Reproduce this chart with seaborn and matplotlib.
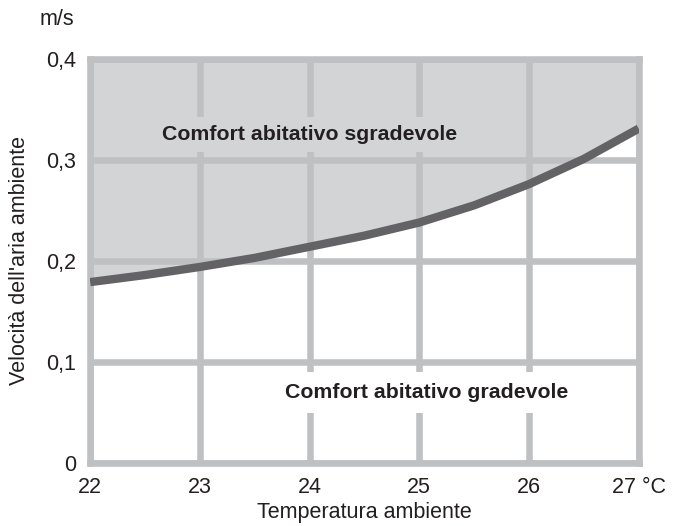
import matplotlib
matplotlib.use("Agg")
import matplotlib.pyplot as plt
import seaborn as sns
import pandas as pd

# Data
temperature = [22.0, 22.5, 23.0, 23.5, 24.0, 24.5, 25.0, 25.5, 26.0, 26.5, 27.0]
air_speed = [0.179, 0.186, 0.194, 0.203, 0.214, 0.225, 0.238, 0.255, 0.276, 0.301, 0.331]
x_ticks = [22, 23, 24, 25, 26, 27]
x_tick_labels = ["22", "23", "24", "25", "26", "27 °C"]
y_ticks = [0, 0.1, 0.2, 0.3, 0.4]
y_tick_labels = ["0", "0,1", "0,2", "0,3", "0,4"]

sns.set_theme(style="white")
plt.rcParams["font.family"] = ["Liberation Sans", "DejaVu Sans"]

GRID = "#bfc0c2"
FILL = "#d3d4d6"
CURVE = "#636365"
TXT = "#231f20"

fig = plt.figure(figsize=(6.73, 5.26), dpi=100)
ax = fig.add_axes([0.134, 0.120, 0.815, 0.768])

df = pd.DataFrame({"t": temperature, "v": air_speed})

ax.fill_between(df["t"], df["v"], 0.4, color=FILL, linewidth=0, zorder=1)
ax.set_axisbelow(False)
ax.grid(True, color=GRID, linewidth=4.7, zorder=2)
sns.lineplot(data=df, x="t", y="v", ax=ax, color=CURVE, linewidth=6.0, zorder=3)
for ln in ax.lines:
    ln.set_solid_joinstyle("round")
    ln.set_solid_capstyle("butt")

ax.set_xlim(22, 27)
ax.set_ylim(0, 0.4)
ax.set_xticks(x_ticks)
ax.set_xticklabels(x_tick_labels)
ax.set_yticks(y_ticks)
ax.set_yticklabels(y_tick_labels)
ax.tick_params(axis="both", length=0, labelsize=15.5, colors=TXT, pad=10)

for s in ax.spines.values():
    s.set_color(GRID)
    s.set_linewidth(4.7)
    s.set_zorder(2)

ax.set_xlabel("Temperatura ambiente", fontsize=15.5, color=TXT, labelpad=3)
ax.set_ylabel("Velocità dell'aria ambiente", fontsize=15.5, color=TXT, labelpad=12)

ax.text(24.0, 0.325, "Comfort abitativo sgradevole", ha="center", va="center",
        fontsize=15.3, fontweight="bold", color=TXT, zorder=4,
        bbox=dict(facecolor=FILL, edgecolor="none", pad=6))
ax.text(25.07, 0.070, "Comfort abitativo gradevole", ha="center", va="center",
        fontsize=15.3, fontweight="bold", color=TXT, zorder=4,
        bbox=dict(facecolor="white", edgecolor="none", pad=8))

fig.text(0.085, 0.962, "m/s", ha="center", va="center", fontsize=15.5, color=TXT)

fig.savefig("out.png", dpi=100)
